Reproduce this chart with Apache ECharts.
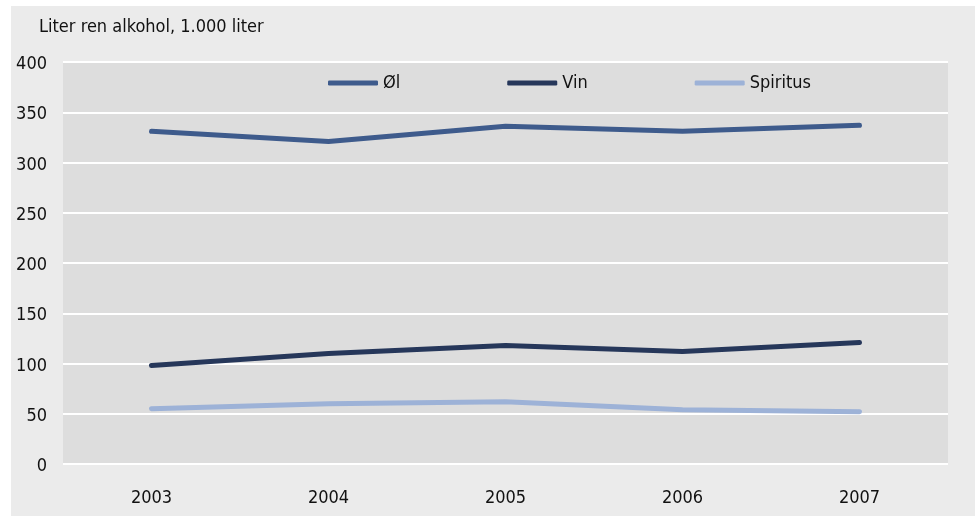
<!DOCTYPE html>
<html>
<head>
<meta charset="utf-8">
<script src="https://cdn.jsdelivr.net/npm/echarts@6/dist/echarts.min.js"></script>
<style>
html,body{margin:0;padding:0;background:#ffffff;}
#chart{width:979px;height:517px;}
</style>
</head>
<body>
<div id="chart"></div>
<script>
var categories = ['2003', '2004', '2005', '2006', '2007'];
var olValues = [331, 321, 336, 331, 337];
var vinValues = [98, 110, 118, 112, 121];
var spiritusValues = [55, 60, 62, 54, 52];
var seriesNames = ['Øl', 'Vin', 'Spiritus'];
var yTicks = { min: 0, max: 400, interval: 50 };

var colors = ['#3e5b8c', '#26375a', '#9db2d7'];
var font = '"Liberation Sans Narrow", "DejaVu Sans Condensed", sans-serif';

var chart = echarts.init(document.getElementById('chart'), null, { renderer: 'canvas' });
var option = {
  backgroundColor: '#ffffff',
  animation: false,
  graphic: [{
    type: 'rect',
    left: 11, top: 6,
    shape: { width: 964, height: 510 },
    style: { fill: '#ebebeb' },
    z: -10, silent: true
  }, {
    type: 'text',
    left: 39, top: 18,
    style: { text: 'Liter ren alkohol, 1.000 liter', fill: '#111', font: '18px ' + font }
  }],
  grid: {
    left: 63, right: 31, top: 62, bottom: 53,
    show: true, backgroundColor: '#dddddd', borderWidth: 0
  },
  legend: {
    left: 323, top: 69,
    itemWidth: 50, itemHeight: 5,
    itemGap: 107,
    icon: 'roundRect',
    textStyle: { fontFamily: font, fontSize: 18, color: '#111', padding: [5, 0, 0, 0] },
    data: seriesNames
  },
  xAxis: {
    type: 'category',
    data: categories,
    boundaryGap: true,
    axisLine: { show: false },
    axisTick: { show: false },
    axisLabel: { fontFamily: font, fontSize: 18, color: '#111', margin: 25 }
  },
  yAxis: {
    type: 'value',
    min: yTicks.min, max: yTicks.max, interval: yTicks.interval,
    axisLine: { show: false },
    axisTick: { show: false },
    axisLabel: { fontFamily: font, fontSize: 18, color: '#111', margin: 16,
      verticalAlign: 'top', lineHeight: 5 },
    splitLine: { lineStyle: { color: '#ffffff', width: 2 } }
  },
  series: [
    { name: seriesNames[0], type: 'line', data: olValues, symbol: 'none', color: colors[0],
      lineStyle: { width: 5, cap: 'round', join: 'round' } },
    { name: seriesNames[1], type: 'line', data: vinValues, symbol: 'none', color: colors[1],
      lineStyle: { width: 5, cap: 'round', join: 'round' } },
    { name: seriesNames[2], type: 'line', data: spiritusValues, symbol: 'none', color: colors[2],
      lineStyle: { width: 5, cap: 'round', join: 'round' } }
  ]
};
chart.setOption(option);
</script>
</body>
</html>
